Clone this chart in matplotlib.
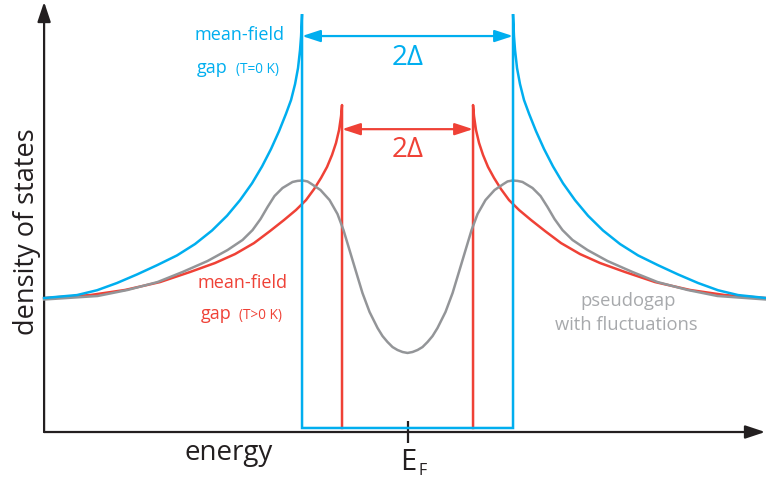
import matplotlib
matplotlib.use("Agg")
import matplotlib.pyplot as plt

plt.rcParams['font.family'] = ['Open Sans', 'DejaVu Sans']

# energy in units of the T=0 gap, density of states in units of the normal-state value
gap0 = 1.0          # mean-field gap at T=0 K
gap_t = 0.621       # mean-field gap at T>0 K
floor = 0.03        # bottom of the gap region

blue_left_e = [-3.445, -3.133, -2.943, -2.754, -2.564, -2.374, -2.185, -2.014, -1.853, -1.711, -1.588,
               -1.474, -1.379, -1.294, -1.218, -1.152, -1.104, -1.066, -1.038, -1.019, -1.009, -1.000]
blue_left_n = [1.000, 1.022, 1.058, 1.112, 1.176, 1.245, 1.318, 1.403, 1.504, 1.614, 1.730,
               1.856, 1.982, 2.112, 2.245, 2.375, 2.478, 2.597, 2.716, 2.851, 2.955, 3.119]
blue_right_e = [1.000, 1.009, 1.019, 1.038, 1.066, 1.104, 1.152, 1.218, 1.294, 1.379, 1.474,
                1.588, 1.711, 1.853, 2.014, 2.185, 2.374, 2.564, 2.754, 2.943, 3.133, 3.398]
blue_right_n = [3.119, 2.955, 2.851, 2.716, 2.597, 2.478, 2.375, 2.245, 2.112, 1.982, 1.856,
                1.730, 1.614, 1.504, 1.403, 1.318, 1.245, 1.176, 1.112, 1.058, 1.022, 1.000]

red_left_e = [-3.445, -3.009, -2.678, -2.346, -2.062, -1.825, -1.635, -1.455, -1.303, -1.171,
              -1.057, -0.962, -0.886, -0.820, -0.763, -0.716, -0.678, -0.649, -0.630, -0.621]
red_left_n = [1.000, 1.022, 1.060, 1.119, 1.194, 1.261, 1.328, 1.410, 1.500, 1.582,
              1.657, 1.731, 1.813, 1.896, 1.978, 2.067, 2.157, 2.254, 2.358, 2.440]
red_right_e = [0.621, 0.630, 0.649, 0.678, 0.716, 0.763, 0.820, 0.886, 0.962, 1.057,
               1.171, 1.303, 1.455, 1.635, 1.825, 2.062, 2.346, 2.678, 3.009, 3.398]
red_right_n = [2.440, 2.358, 2.254, 2.157, 2.067, 1.978, 1.896, 1.813, 1.731, 1.657,
               1.582, 1.500, 1.410, 1.328, 1.261, 1.194, 1.119, 1.060, 1.022, 1.000]

gray_e = [-3.445, -2.938, -2.654, -2.370, -2.133, -1.896, -1.706, -1.564, -1.469, -1.393,
          -1.327, -1.261, -1.185, -1.090, -1.043, -0.995, -0.948, -0.910, -0.825, -0.739,
          -0.664, -0.607, -0.550, -0.493, -0.427, -0.360, -0.284, -0.237, -0.190, -0.142,
          -0.095, -0.047, 0.0,
          0.047, 0.095, 0.142, 0.190, 0.237, 0.284, 0.360, 0.427, 0.493, 0.550,
          0.607, 0.664, 0.739, 0.825, 0.910, 0.948, 0.995, 1.043, 1.090, 1.185,
          1.261, 1.327, 1.393, 1.469, 1.564, 1.706, 1.896, 2.133, 2.370, 2.654,
          2.938, 3.398]
gray_n = [0.989, 1.015, 1.060, 1.119, 1.194, 1.276, 1.358, 1.433, 1.507, 1.590,
          1.679, 1.761, 1.821, 1.866, 1.874, 1.877, 1.870, 1.851, 1.806, 1.731,
          1.627, 1.507, 1.358, 1.209, 1.037, 0.896, 0.776, 0.716, 0.672, 0.634,
          0.612, 0.597, 0.590,
          0.597, 0.612, 0.634, 0.672, 0.716, 0.776, 0.896, 1.037, 1.209, 1.358,
          1.507, 1.627, 1.731, 1.806, 1.851, 1.870, 1.877, 1.874, 1.866, 1.821,
          1.761, 1.679, 1.590, 1.507, 1.433, 1.358, 1.276, 1.194, 1.119, 1.060,
          1.015, 0.989]

e_axis_min, e_axis_max = -3.445, 3.39
n_axis_max = 3.21

BLUE = '#00aeef'
RED = '#ef4136'
GRAY = '#939598'
TEXT_GRAY = '#a7a9ac'
BLACK = '#231f20'

W, H = 766, 484
fig = plt.figure(figsize=(W / 100, H / 100), dpi=100)
ax = fig.add_axes([0, 0, 1, 1])
ax.set_xlim(-3.863, 3.398)
ax.set_ylim(-0.388, 3.224)
ax.axis('off')

# axes with arrow heads
axis_arrow = dict(arrowstyle='-|>,head_length=1.2,head_width=0.4', color=BLACK, lw=1.6,
                  shrinkA=0, shrinkB=0, mutation_scale=10)
ax.annotate('', xy=(e_axis_min, n_axis_max), xytext=(e_axis_min, 0), arrowprops=axis_arrow)
ax.annotate('', xy=(e_axis_max, 0), xytext=(e_axis_min, 0), arrowprops=axis_arrow)
ax.plot([0, 0], [-0.08, 0.08], color=BLACK, lw=1.6, solid_capstyle='butt')

# T>0 mean-field gap
ax.plot(red_left_e + [-gap_t], red_left_n + [floor], color=RED, lw=1.8, zorder=2)
ax.plot([gap_t] + red_right_e, [floor] + red_right_n, color=RED, lw=1.8, zorder=2)

# pseudogap
ax.plot(gray_e, gray_n, color=GRAY, lw=1.8, zorder=3)

# T=0 mean-field gap
ax.plot(blue_left_e + [-gap0, gap0] + blue_right_e,
        blue_left_n + [floor, floor] + blue_right_n,
        color=BLUE, lw=1.8, zorder=4, solid_joinstyle='miter')

gap_arrow = dict(arrowstyle='<|-|>,head_length=1.1,head_width=0.36', lw=1.6,
                 shrinkA=0, shrinkB=0, mutation_scale=10)
ax.annotate('', xy=(gap0, 2.955), xytext=(-gap0, 2.955),
            arrowprops=dict(gap_arrow, color=BLUE), zorder=5)
ax.annotate('', xy=(gap_t, 2.26), xytext=(-gap_t, 2.26),
            arrowprops=dict(gap_arrow, color=RED), zorder=5)


def label(x, y, s, **kw):
    fig.text(x / W, 1 - y / H, s, **kw)


label(408, 58, '2Δ', color=BLUE, fontsize=20, ha='center', va='center')
label(408, 150, '2Δ', color=RED, fontsize=20, ha='center', va='center')

label(239, 35, 'mean-field', color=BLUE, fontsize=13, ha='center', va='center')
label(197, 68, 'gap', color=BLUE, fontsize=13, ha='left', va='center')
label(236, 69, '(T=0 K)', color=BLUE, fontsize=9.8, ha='left', va='center')

label(243, 283, 'mean-field', color=RED, fontsize=13, ha='center', va='center')
label(201, 314, 'gap', color=RED, fontsize=13, ha='left', va='center')
label(239, 315, '(T>0 K)', color=RED, fontsize=9.8, ha='left', va='center')

label(628, 301, 'pseudogap', color=TEXT_GRAY, fontsize=13.2, ha='center', va='center')
label(626, 325, 'with fluctuations', color=TEXT_GRAY, fontsize=13.2, ha='center', va='center')

label(27, 232, 'density of states', color=BLACK, fontsize=19.5, rotation=90, ha='center', va='center')
label(229, 453, 'energy', color=BLACK, fontsize=20, ha='center', va='center')
label(408, 463, 'E', color=BLACK, fontsize=21, ha='center', va='center')
label(423, 471, 'F', color=BLACK, fontsize=11.5, ha='center', va='center')

fig.savefig('out.png', dpi=100)
